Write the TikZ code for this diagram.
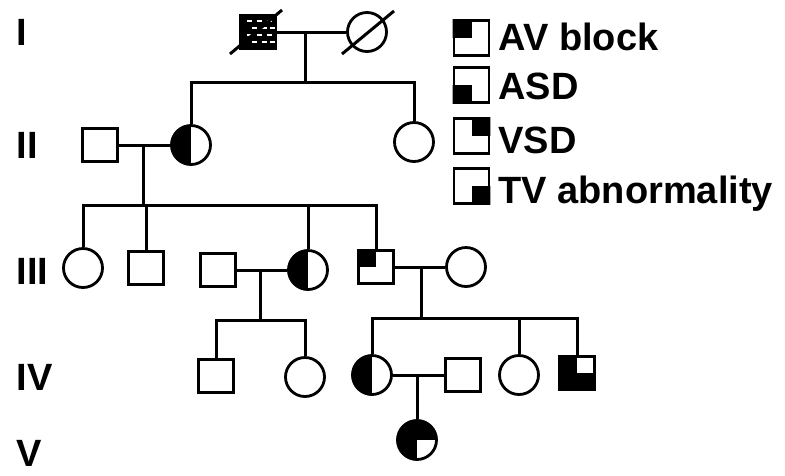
\documentclass[tikz,border=0pt]{standalone}
\usepackage{fontspec}
\setmainfont{Liberation Sans}
\usetikzlibrary{calc}
% quadrant fills, drawn after a node: top/bottom as seen on the page
\newcommand\qTL[1]{\fill ([shift={(-26,-26)}]#1.center) rectangle (#1.center);}
\newcommand\qTR[1]{\fill ([shift={(26,-26)}]#1.center) rectangle (#1.center);}
\newcommand\qBL[1]{\fill ([shift={(-26,26)}]#1.center) rectangle (#1.center);}
\newcommand\qBR[1]{\fill ([shift={(26,26)}]#1.center) rectangle (#1.center);}
\newcommand\clipsq[1]{\clip (#1.south west) rectangle (#1.north east);}
\newcommand\clipci[1]{\clip (#1.center) circle (20.5pt);}
\begin{document}
\begin{tikzpicture}[x=1pt,y=-1pt, line width=3pt,
  ind/.style={draw, line width=2.8pt, inner sep=0pt, fill=white},
  male/.style={ind, rectangle, minimum width=35pt, minimum height=33pt},
  female/.style={ind, circle, minimum size=39pt},
  keybox/.style={ind, rectangle, minimum size=35pt},
  lab/.style={anchor=base west, inner sep=0pt, font=\fontsize{38}{40}\selectfont\bfseries},
  link/.style={line width=3pt},
  slash/.style={line width=3pt}
]
\useasboundingbox (0,0) rectangle (785,475);

% generation labels
\node[lab] (gI)   at (15,45)  {I};
\node[lab] (gII)  at (15,158) {II};
\node[lab] (gIII) at (15,284) {III};
\node[lab] (gIV)  at (15,390) {IV};
\node[lab] (gV)   at (15,466) {V};

% legend
\node[keybox] (kAV)  at (471.5,38)  {};
\node[keybox] (kASD) at (471.5,85)  {};
\node[keybox] (kVSD) at (471.5,136) {};
\node[keybox] (kTV)  at (471.5,186) {};
\begin{scope}\clipsq{kAV}\qTL{kAV}\end{scope}
\begin{scope}\clipsq{kASD}\qBL{kASD}\end{scope}
\begin{scope}\clipsq{kVSD}\qTR{kVSD}\end{scope}
\begin{scope}\clipsq{kTV}\qBR{kTV}\end{scope}
\node[lab] (tAV)  at (497,50)  {AV block};
\node[lab] (tASD) at (497,99)  {ASD};
\node[lab] (tVSD) at (497,153) {VSD};
\node[lab] (tTV)  at (497,203) {TV abnormality};

% generation I
\node[male, fill=black] (I1) at (258,32) {};
\foreach \yy/\xs in {-11/{-9,1,11}, -4/{-4,6,14}, 3/{-9,1,11}, 10/{-4,6,14}} {
  \foreach \xx in \xs {
    \draw[white, line width=1.6pt] ([shift={(\xx-2.5,\yy)}]I1.center) -- ++(5,0);}}
\node[female] (I2) at (367,32) {};
\draw[slash] ([shift={(-28,22)}]I1.center) -- ([shift={(24,-22)}]I1.center);
\draw[slash] ([shift={(-25,22)}]I2.center) -- ([shift={(27,-21)}]I2.center);
\coordinate (m1) at (305,32);
\coordinate (s1) at (305,82);

% generation II
\node[male] (II1) at (100,145) {};
\node[female] (II2) at (191,145) {};
\begin{scope}\clipci{II2}\qTL{II2}\qBL{II2}\end{scope}
\node[female] (II3) at (414,142) {};
\coordinate (m2) at (143,145);
\coordinate (s2) at (143,205);

% generation III
\node[female] (III1) at (83,268) {};
\node[male] (III2) at (146,268) {};
\node[male] (III3) at (218,270) {};
\node[female] (III4) at (308,270) {};
\begin{scope}\clipci{III4}\qTL{III4}\qBL{III4}\end{scope}
\node[male] (III5) at (376,267) {};
\begin{scope}\clipsq{III5}\qTL{III5}\end{scope}
\node[female] (III6) at (466,267) {};
\coordinate (m3) at (260,270);
\coordinate (s3) at (260,320);
\coordinate (m4) at (421,267);
\coordinate (s4) at (421,318);

% generation IV
\node[male] (IV1) at (216,376) {};
\node[female] (IV2) at (305,377) {};
\node[female] (IV3) at (372,375) {};
\begin{scope}\clipci{IV3}\qTL{IV3}\qBL{IV3}\end{scope}
\node[male] (IV4) at (463,375) {};
\node[female] (IV5) at (519,375) {};
\node[male] (IV6) at (577,373) {};
\begin{scope}\clipsq{IV6}\qTL{IV6}\qBL{IV6}\qBR{IV6}\end{scope}
\coordinate (m5) at (417,375);

% generation V
\node[female] (V1) at (417,440) {};
\begin{scope}\clipci{V1}\qTL{V1}\qBL{V1}\qTR{V1}\end{scope}

% connectors
\draw[link] (I1) -- (I2);
\draw[link] (m1) -- (s1);
\draw[link] (II2.north) |- (s1) -| (II3.north);

\draw[link] (II1) -- (II2);
\draw[link] (m2) -- (s2);
\draw[link] (III1.north) |- (s2) -| (III5.north);
\draw[link] (III2.north) -- (III2.north |- s2);
\draw[link] (III4.north) -- (III4.north |- s2);

\draw[link] (III3) -- (III4);
\draw[link] (m3) -- (s3);
\draw[link] (IV1.north) |- (s3) -| (IV2.north);

\draw[link] (III5) -- (III6);
\draw[link] (m4) -- (s4);
\draw[link] (IV3.north) |- (s4) -| (IV6.north);
\draw[link] (IV5.north) -- (IV5.north |- s4);

\draw[link] (IV3) -- (IV4);
\draw[link] (m5) -- (V1);
\end{tikzpicture}
\end{document}
